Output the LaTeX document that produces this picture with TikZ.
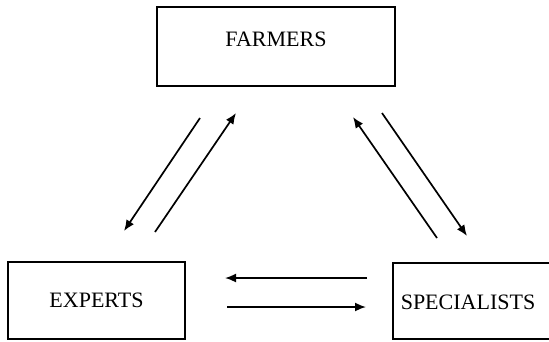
\documentclass[tikz,border=0pt]{standalone}
\usepackage{fontspec}
\setmainfont{Liberation Serif}
\usetikzlibrary{arrows.meta,positioning}
\begin{document}
\begin{tikzpicture}[x=1pt,y=-1pt,
  lbl/.style={font=\fontsize{22}{26}\selectfont},
  actor/.style={draw,line width=1.5pt,rectangle,inner sep=0pt,lbl},
  flow/.style={line width=1.7pt,-{Latex[length=11pt,width=9pt]}}]
\useasboundingbox (0,0) rectangle (549,341);
\clip (0,0) rectangle (549,341);
% the three parties
\node[actor,minimum width=238pt,minimum height=79pt,
      label={[yshift=7pt,lbl]center:FARMERS}] (farmers) at (276,46.5) {};
\node[actor,minimum width=177pt,minimum height=77pt] (experts) at (96.5,300.5) {EXPERTS};
\node[actor,minimum width=163pt,minimum height=76pt,anchor=west] (specialists) at (392,301) {};
\node[lbl] (spectext) at (468,302) {SPECIALISTS};
% arrow end points
\coordinate (fe1) at (200,118); \coordinate (ef1) at (124,231);
\coordinate (ef2) at (155,232); \coordinate (fe2) at (236,113);
\coordinate (sf1) at (437,238); \coordinate (fs1) at (353,117);
\coordinate (fs2) at (382,113); \coordinate (sf2) at (467,236);
\coordinate (se1) at (367,278); \coordinate (es1) at (225,278);
\coordinate (es2) at (227,307); \coordinate (se2) at (366,307);
% exchanges
\draw[flow] (fe1) -- (ef1);
\draw[flow] (ef2) -- (fe2);
\draw[flow] (sf1) -- (fs1);
\draw[flow] (fs2) -- (sf2);
\draw[flow] (se1) -- (es1);
\draw[flow] (es2) -- (se2);
\end{tikzpicture}
\end{document}
